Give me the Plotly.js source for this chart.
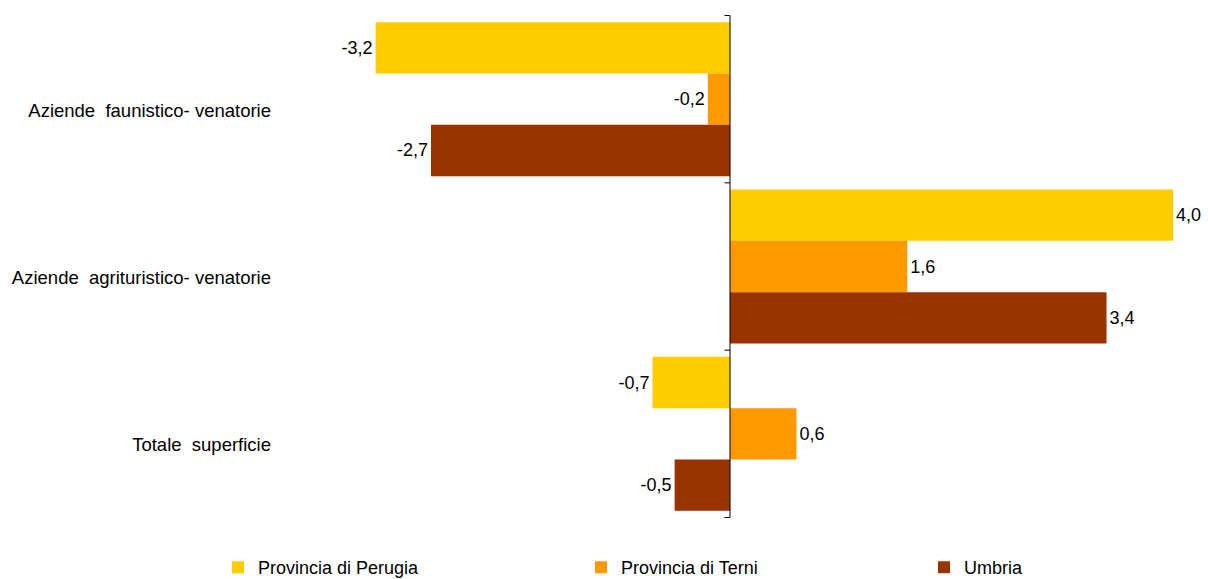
<!DOCTYPE html>
<html>
<head>
<meta charset="utf-8">
<script src="https://cdn.plot.ly/plotly-3.0.1.min.js"></script>
<style>html,body{margin:0;padding:0;background:#fff;}</style>
</head>
<body>
<div id="chart" style="width:1208px;height:579px;"></div>
<script>
const categories = ["Aziende\u00a0 faunistico- venatorie", "Aziende\u00a0 agrituristico- venatorie", "Totale\u00a0 superficie"];
const seriesNames = ["Provincia di Perugia", "Provincia di Terni", "Umbria"];
const perugia = [-3.2, 4.0, -0.7];
const terni = [-0.2, 1.6, 0.6];
const umbria = [-2.7, 3.4, -0.5];
const colors = ["#FFCC00", "#FF9900", "#993300"];
const boundaries = [-0.5, 0.5, 1.5, 2.5];
const legendIds = ["legend", "legend2", "legend3"];
const legendX = [-0.0756, 0.322, 0.6977];

const FONT = 'Liberation Sans, Arial, sans-serif';
const fmt = v => v.toFixed(1).replace('.', ',');
const traces = [perugia, terni, umbria].map((vals, i) => ({
  type: 'bar',
  orientation: 'h',
  name: seriesNames[i],
  legend: legendIds[i],
  y: categories,
  x: vals,
  text: vals.map(fmt),
  textposition: 'outside',
  cliponaxis: false,
  textfont: {family: FONT, size: 18, color: '#000'},
  marker: {color: colors[i], line: {width: 0}},
  hoverinfo: 'x+name'
}));

const shapes = [{
  type: 'line', xref: 'x', yref: 'y', x0: 0, x1: 0, y0: -0.5, y1: 2.5,
  line: {color: '#000', width: 1}
}].concat(boundaries.map(b => ({
  type: 'line', xref: 'x', yref: 'y', x0: -0.05, x1: 0, y0: b, y1: b,
  line: {color: '#000', width: 1}
})));

const layout = {
  width: 1208, height: 579,
  margin: {l: 287, r: 8, t: 15, b: 61, autoexpand: false},
  paper_bgcolor: '#fff', plot_bgcolor: '#fff',
  barmode: 'group', bargap: 0.08, bargroupgap: 0,
  font: {family: FONT, size: 18, color: '#000'},
  xaxis: {range: [-4, 4.2438], visible: false, showgrid: false, zeroline: false, fixedrange: true},
  yaxis: {
    type: 'category', autorange: 'reversed', showgrid: false, zeroline: false, showline: false,
    ticks: '', ticklabelstandoff: 15, ticklabelshift: -11,
    tickfont: {family: FONT, size: 18.5, color: '#000'}
  },
  shapes: shapes,
  showlegend: true
};
legendIds.forEach((id, i) => {
  layout[id] = {
    orientation: 'h', x: legendX[i], xanchor: 'left', y: -0.0617, yanchor: 'top',
    font: {family: FONT, size: 18, color: '#000'}, itemwidth: 30, bgcolor: 'rgba(0,0,0,0)'
  };
});

Plotly.newPlot('chart', traces, layout, {displayModeBar: false, staticPlot: true});
</script>
</body>
</html>
